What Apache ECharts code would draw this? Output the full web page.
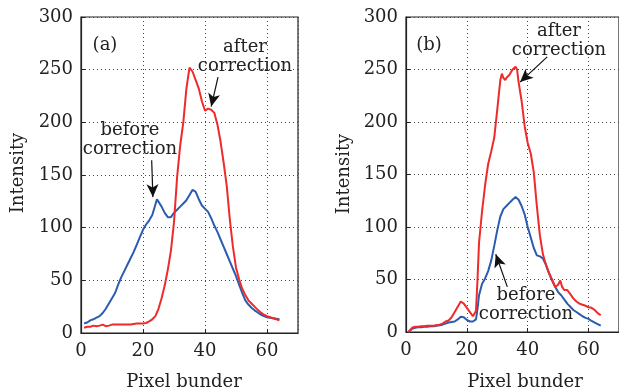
<!DOCTYPE html>
<html>
<head>
<meta charset="utf-8">
<script src="https://cdn.jsdelivr.net/npm/echarts@6/dist/echarts.min.js"></script>
<style>
  html, body { margin: 0; background: #fff; }
  #chart { width: 619px; height: 392px; }
</style>
</head>
<body>
<div id="chart"></div>
<script>
// panel (a): [pixel, intensity]
const aBefore = [[1,9],[2,10],[3,12],[4,13],[5,14.5],[6,16],[7,19],[8,23],[9,28],[10,33],[11,38],[12,46],[13,53],[14,59],[15,65],[16,71],[17,77],[18,84],[19,91],[20,98],[21,103],[22,107],[23,112],[24,122],[24.5,127],[25,126],[26,120],[27,114],[28,110],[29,110],[30,114],[31,117],[32,120],[33,123],[34,126],[35,131],[36,136],[37,134],[38,127],[39,121],[40,118],[41,115],[42,109],[43,102],[44,96],[45,89],[46,82],[47,75],[48,68],[49,61],[50,54],[51,46],[52,38],[53,31],[54,27],[55,24],[56,21.5],[57,19.5],[58,17.5],[59,16],[60,15],[61,14.5],[62,14],[63,13.5],[64,13]];
const aAfter = [[1,5],[2,6],[3,6],[4,7],[5,6.5],[6,7],[7,8],[8,6.5],[9,7],[10,8],[11,8],[12,8],[13,8],[14,8],[15,8],[16,8],[17,8.5],[18,9],[19,9],[20,9],[21,9.5],[22,11],[23,13],[24,16],[25,23],[26,33],[27,45],[28,60],[29,78],[30,105],[31,148],[32,178],[33,200],[34,232],[35,252],[35.5,253],[36,248],[37,240],[38,232],[39,220],[40,211],[41,213],[42,212],[43,209],[44,198],[45,182],[46,162],[47,140],[48,108],[49,82],[50,62],[51,51],[52,42],[53,36],[54,31],[55,28],[56,25],[57,22],[58,19.5],[59,17.5],[60,16],[61,15],[62,14],[63,13],[64,12]];

// panel (b)
const bBefore = [[0.8,0],[1,0.5],[2,3],[3,4],[4,4.5],[5,4.5],[6,5],[7,5],[8,5.5],[9,5.5],[10,6],[11,6.5],[12,7],[13,8],[14,9],[15,9.5],[16,10],[17,12],[18,14.5],[19,14],[20,11.5],[21,10],[22,10],[23,12],[23.5,22],[24,35],[25,46],[26,51],[27,58],[28,68],[29,82],[30,97],[31,110],[32,117],[33,120],[34,123],[35,126],[36,128.5],[37,126],[38,120],[39,112],[40,100],[41,90],[42,80],[43,73],[44,72],[45,70],[46,64],[47,56],[48,49],[49,43],[50,38],[51,35],[52,31],[53,27],[54,24],[55,21],[56,19],[57,17],[58,15],[59,13.5],[60,12.5],[61,10.5],[62,9],[63,7.5],[64,6]];
const bAfter = [[0.8,0],[1,1.5],[2,4],[3,5],[4,5],[5,5.5],[6,5.5],[7,6],[8,6],[9,6],[10,6.5],[11,7],[12,8],[13,10],[14,11],[15,14],[16,19],[17,24],[18,29],[18.5,30],[19,27],[20,23],[21,19],[22,15],[22.5,14],[23,20],[23.5,50],[24,85],[25,115],[26,140],[27,160],[28,172],[29,185],[30,212],[31,240],[31.5,246],[32,242],[32.6,240],[33,242],[34,245],[35,250],[36,252.5],[36.5,250],[37,238],[38,220],[39,196],[40,180],[41,170],[42,152],[43,120],[44,92],[45,74],[46,64],[47,56],[48,50],[49,43],[50,45],[50.7,49],[51.3,43],[52,40],[53,40],[54,36],[55,32],[56,29],[57,27],[58,26],[59,25],[60,23.5],[61,23],[62,21],[63,18],[64,16]];

// annotation arrows, [from, to] in data units
const aArrows = [[[22.8,164],[23.2,129]], [[44.2,243],[42.0,215]]];
const bArrows = [[[46.4,262],[37.5,238]], [[33.3,43],[29.5,74]]];

const xTicks = { min: 0, max: 70, interval: 20 };
const yTicks = { min: 0, max: 300, interval: 50 };

const FONT = '"DejaVu Serif", serif';
const INK = '#222';
const RED = '#ee2a2a';
const BLUE = '#2b5cb0';

const chart = echarts.init(document.getElementById('chart'));

const dotted = { show: true, lineStyle: { color: '#444', width: 1, type: [1, 3] } };

function xAxis(idx) {
  return {
    type: 'value', gridIndex: idx, ...xTicks,
    axisLine: { lineStyle: { color: INK, width: 1.2 } },
    axisTick: { inside: true, length: 4, lineStyle: { color: INK } },
    axisLabel: { fontFamily: FONT, fontSize: 18, color: INK, margin: 9, showMaxLabel: false },
    splitLine: dotted
  };
}
function yAxis(idx) {
  return {
    type: 'value', gridIndex: idx, ...yTicks,
    axisLine: { show: true, lineStyle: { color: INK, width: 1.2 } },
    axisTick: { show: true, inside: true, length: 4, lineStyle: { color: INK } },
    axisLabel: { fontFamily: FONT, fontSize: 18, color: INK, margin: 8 },
    splitLine: dotted
  };
}

function arrows(list) {
  return {
    silent: true,
    symbol: ['none', 'arrow'],
    symbolSize: [9, 13],
    label: { show: false },
    lineStyle: { color: '#111', width: 1.2, type: 'solid' },
    emphasis: { disabled: true },
    data: list.map(a => [{ coord: a[0] }, { coord: a[1] }])
  };
}

function line(data, color, idx, mark) {
  return {
    type: 'line', xAxisIndex: idx, yAxisIndex: idx,
    data: data, showSymbol: false, symbol: 'none',
    lineStyle: { color: color, width: 2 },
    itemStyle: { color: color },
    markLine: mark
  };
}

function text(str, x, y, extra) {
  return Object.assign({
    type: 'text', x: x, y: y, z: 100,
    style: { text: str, font: '18px ' + FONT, fill: INK, align: 'center', verticalAlign: 'middle', lineHeight: 19 }
  }, extra || {});
}

chart.setOption({
  animation: false,
  backgroundColor: '#fff',
  grid: [
    { left: 81, top: 17, width: 217, height: 316, show: true, borderColor: INK, borderWidth: 1.2 },
    { left: 406, top: 17, width: 215, height: 315, show: true, borderColor: INK, borderWidth: 1.2 }
  ],
  xAxis: [xAxis(0), xAxis(1)],
  yAxis: [yAxis(0), yAxis(1)],
  series: [
    line(aBefore, BLUE, 0),
    line(aAfter, RED, 0, arrows(aArrows)),
    line(bBefore, BLUE, 1),
    line(bAfter, RED, 1, arrows(bArrows))
  ],
  graphic: [
    text('(a)', 105, 45),
    text('after\ncorrection', 245, 56.5),
    text('before\ncorrection', 130, 139.5),
    text('Intensity', 18, 173, { rotation: Math.PI / 2 }),
    text('Pixel bunder', 184, 382),
    text('(b)', 429, 45),
    text('after\ncorrection', 559, 40.5),
    text('before\ncorrection', 526, 305),
    text('Intensity', 344, 174, { rotation: Math.PI / 2 }),
    text('Pixel bunder', 525, 382)
  ]
});
</script>
</body>
</html>
